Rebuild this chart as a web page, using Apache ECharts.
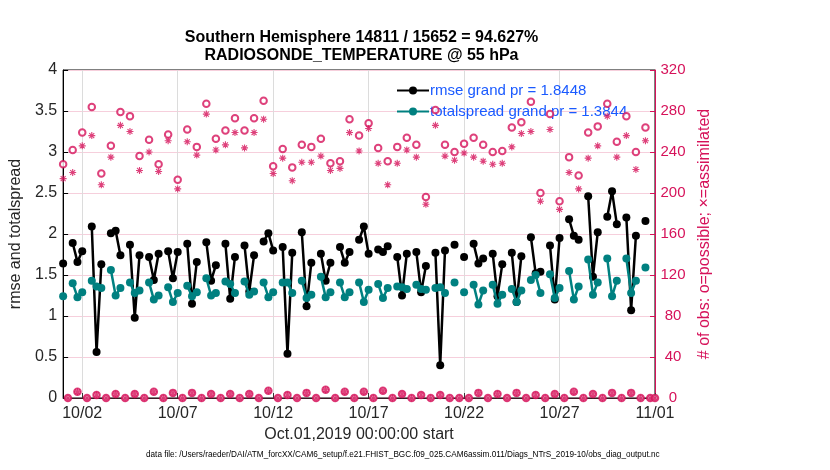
<!DOCTYPE html>
<html><head><meta charset="utf-8">
<script src="https://cdn.jsdelivr.net/npm/echarts@6/dist/echarts.min.js"></script>
<style>html,body{margin:0;padding:0;background:#fff}#c{width:830px;height:470px}</style>
</head><body><div id="c"></div>
<script>
// tick labels shown on the time axis (00Z of these days)
const tickLabels = ['10/02','10/07','10/12','10/17','10/22','10/27','11/01'];
// 6-hourly values, Oct 01 00Z ... Nov 01 00Z (00,06,12,18 per day)
const rmse = [
 1.64,null,1.89,1.66, 1.79,null,2.09,0.56, 1.63,null,2.01,2.04, 1.74,null,1.87,0.98,
 1.74,null,1.72,1.44, 1.76,null,1.79,1.46, 1.78,null,1.88,1.15, 1.66,null,1.90,1.43,
 1.62,null,1.88,1.21, 1.72,null,1.86,1.30, 1.74,null,1.91,2.01, 1.80,null,1.84,0.54,
 1.77,null,2.02,1.12, 1.65,null,1.76,1.43, 1.65,null,1.84,1.65, 1.78,null,1.93,2.09,
 1.76,null,1.81,1.78, 1.85,null,1.72,1.25, 1.76,null,1.78,1.29, 1.61,null,1.77,0.40,
 1.80,null,1.87,null, 1.72,null,1.88,1.64, 1.70,null,1.76,1.24, 1.63,null,1.77,1.17,
 1.73,null,1.96,1.52, 1.54,null,1.86,1.20, 1.95,null,2.18,1.98, 1.93,null,2.46,1.48,
 2.02,null,2.21,2.52, 2.12,null,2.20,1.07, 1.98,null,2.16,null, null
];
const totalspread = [
 1.24,null,1.40,1.23, 1.29,null,1.43,1.36, 1.34,null,1.56,1.25, 1.34,null,1.41,1.28,
 1.31,null,1.41,1.20, 1.25,null,1.35,1.17, 1.28,null,1.37,1.24, 1.29,null,1.46,1.25,
 1.28,null,1.42,1.39, 1.28,null,1.42,1.26, 1.30,null,1.41,1.23, 1.29,null,1.41,1.41,
 1.28,null,1.43,1.22, 1.26,null,1.48,1.23, 1.29,null,1.41,1.23, 1.29,null,1.41,1.17,
 1.32,null,1.39,1.22, 1.34,null,1.36,1.35, 1.33,null,1.38,1.33, 1.32,null,1.34,1.35,
 1.28,null,1.41,null, 1.29,null,1.38,1.14, 1.31,null,1.38,1.15, 1.26,null,1.33,1.17,
 1.31,null,1.44,1.50, 1.28,null,1.51,1.22, 1.34,null,1.55,1.20, 1.36,null,1.69,1.26,
 1.41,null,1.70,1.24, 1.43,null,1.70,1.28, 1.43,null,1.59,null, null
];
const possible = [
 228,0,242,6, 259,0,284,3, 219,0,246,4, 279,0,275,4, 236,0,252,6, 228,0,257,5,
 213,0,262,5, 245,0,287,4, 253,0,261,4, 273,0,261,4, 273,0,290,7, 226,0,243,3,
 225,0,247,5, 245,0,253,8, 229,0,231,6, 272,0,256,6, 268,0,244,7, 231,0,245,4,
 254,0,247,3, 196,0,281,3, 247,0,240,0, 248,0,254,5, 247,0,240,4, 241,0,264,5,
 269,0,289,3, 200,0,277,4, 192,0,235,6, 217,0,259,4, 265,0,287,5, 250,0,275,5,
 240,0,264,0, 0
];
const assimilated = [
 214,0,220,6, 246,0,256,3, 208,0,235,4, 266,0,260,4, 222,0,240,6, 221,0,251,5,
 204,0,250,5, 237,0,277,4, 242,0,247,4, 259,0,244,4, 259,0,272,7, 219,0,234,3,
 212,0,230,5, 230,0,236,8, 222,0,224,6, 259,0,241,6, 263,0,229,7, 208,0,229,4,
 242,0,235,3, 189,0,266,3, 236,0,232,0, 239,0,235,5, 231,0,228,4, 229,0,245,5,
 258,0,260,3, 192,0,262,4, 184,0,220,6, 204,0,234,4, 246,0,275,5, 235,0,256,5,
 223,0,251,0, 0
];

const times = [];
for (let i = 0; i < rmse.length; i++) {
  const d = new Date(Date.UTC(2019, 9, 1) + i * 6 * 3600 * 1000);
  const mm = String(d.getUTCMonth() + 1).padStart(2, '0');
  const dd = String(d.getUTCDate()).padStart(2, '0');
  const hh = String(d.getUTCHours()).padStart(2, '0');
  times.push(mm + '/' + dd + ' ' + hh + 'Z');
}
const isTick = (idx, val) => val.endsWith('00Z') && tickLabels.includes(val.split(' ')[0]);

const CRIM = '#d6125a';
const FONT = 'Liberation Sans, Arial, Helvetica, sans-serif';
const asterisk = 'path://M0,-10L0,10M-10,0L10,0M-7.07,-7.07L7.07,7.07M-7.07,7.07L7.07,-7.07';

const chart = echarts.init(document.getElementById('c'), null, {renderer: 'canvas'});
chart.setOption({
  animation: false,
  backgroundColor: '#fff',
  textStyle: {fontFamily: FONT},
  title: {
    text: 'Southern Hemisphere 14811 / 15652 = 94.627%\nRADIOSONDE_TEMPERATURE @ 55 hPa',
    left: 356.5, top: 24, textAlign: 'center',
    textStyle: {fontSize: 16, fontWeight: 'bold', color: '#000', lineHeight: 18, fontFamily: FONT}
  },
  legend: {
    data: ['rmse grand pr = 1.8448', 'totalspread grand pr = 1.3844'],
    orient: 'vertical', left: 391, top: 78, padding: 5,
    itemWidth: 32, itemHeight: 10, itemGap: 6,
    textStyle: {color: '#1a5aff', fontSize: 15, fontFamily: FONT, padding: [0,0,0,-4]}
  },
  grid: {left: 58, right: 175, top: 70, bottom: 72, show: true, borderColor: '#000', borderWidth: 1, backgroundColor: 'transparent'},
  xAxis: {
    type: 'category', data: times, boundaryGap: false,
    name: 'Oct.01,2019 00:00:00 start', nameLocation: 'middle', nameGap: 29,
    nameTextStyle: {fontSize: 16, color: '#262626', fontFamily: FONT},
    axisLine: {lineStyle: {color: '#3a1a24', width: 1}},
    axisTick: {inside: true, length: 5, interval: isTick, lineStyle: {color: '#333'}},
    axisLabel: {interval: isTick, formatter: v => v.split(' ')[0], fontSize: 16, color: '#262626', margin: 8, fontFamily: FONT},
    splitLine: {show: true, interval: isTick, lineStyle: {color: '#dcdcdc', width: 1}}
  },
  yAxis: [{
    type: 'value', min: 0, max: 4, interval: 0.5,
    name: 'rmse and totalspread', nameLocation: 'middle', nameGap: 35,
    nameTextStyle: {fontSize: 16, color: '#262626', fontFamily: FONT},
    axisLine: {show: true, lineStyle: {color: '#000'}},
    axisTick: {show: true, inside: true, length: 5, lineStyle: {color: '#000'}},
    axisLabel: {fontSize: 16, color: '#262626', margin: 6, fontFamily: FONT},
    splitLine: {show: true, lineStyle: {color: '#f6cfdc', width: 1}}
  }, {
    type: 'value', min: 0, max: 320, interval: 40, position: 'right',
    name: '# of obs: o=possible; \u00d7=assimilated', nameLocation: 'middle', nameGap: 40, nameRotate: 90,
    nameTextStyle: {fontSize: 16, color: CRIM, fontFamily: FONT},
    axisLine: {show: true, lineStyle: {color: CRIM}},
    axisTick: {show: true, inside: true, length: 5, lineStyle: {color: CRIM}},
    axisLabel: {fontSize: 15, color: CRIM, margin: 18, align: 'center', fontFamily: FONT},
    splitLine: {show: false}
  }],
  series: [{
    name: 'rmse grand pr = 1.8448', type: 'line', data: rmse, connectNulls: false,
    symbol: 'circle', symbolSize: 8, showAllSymbol: true,
    lineStyle: {color: '#000', width: 2.5}, itemStyle: {color: '#000'}, z: 3
  }, {
    name: 'totalspread grand pr = 1.3844', type: 'line', data: totalspread, connectNulls: false,
    symbol: 'circle', symbolSize: 8, showAllSymbol: true,
    lineStyle: {color: '#008080', width: 2.5}, itemStyle: {color: '#008080'}, z: 4
  }, {
    type: 'scatter', yAxisIndex: 1, data: possible, symbol: 'emptyCircle', symbolSize: 6.5,
    itemStyle: {color: CRIM, borderColor: CRIM, borderWidth: 0.9}, z: 5
  }, {
    type: 'scatter', yAxisIndex: 1, data: assimilated, symbol: asterisk, symbolSize: 7,
    itemStyle: {color: 'none', borderColor: CRIM, borderWidth: 1.1}, z: 6
  }],
  graphic: [{
    type: 'text', left: 146, top: 451,
    style: {text: 'data file: /Users/raeder/DAI/ATM_forcXX/CAM6_setup/f.e21.FHIST_BGC.f09_025.CAM6assim.011/Diags_NTrS_2019-10/obs_diag_output.nc',
      fontSize: 8.2, fill: '#000', fontFamily: FONT}
  }]
});
</script></body></html>
